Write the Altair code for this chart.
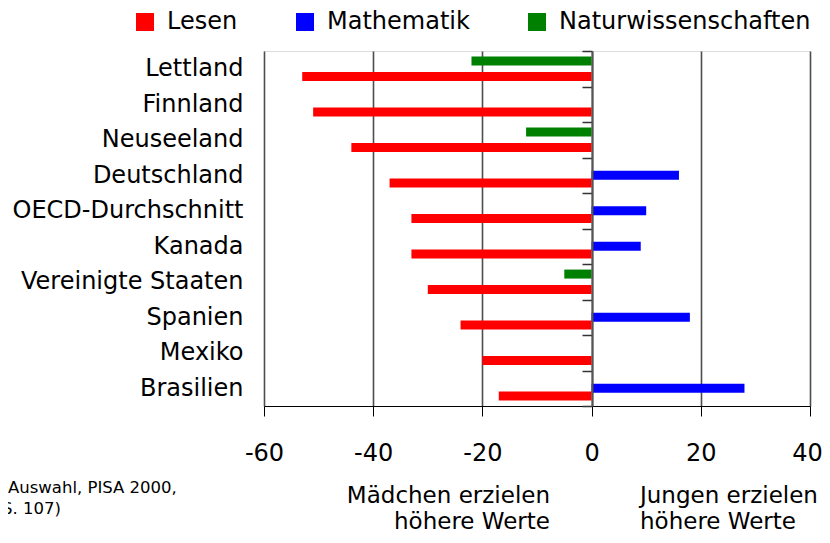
import altair as alt
import pandas as pd

countries = ["Lettland", "Finnland", "Neuseeland", "Deutschland", "OECD-Durchschnitt",
             "Kanada", "Vereinigte Staaten", "Spanien", "Mexiko", "Brasilien"]
lesen = [-53, -51, -44, -37, -33, -33, -30, -24, -20, -17]
mathematik = [None, None, None, 16, 10, 9, None, 18, None, 28]
naturwiss = [-22, None, -12, None, None, None, -5, None, None, None]
series = ["Lesen", "Mathematik", "Naturwissenschaften"]
colors = ["#ff0000", "#0000ff", "#008000"]
x_ticks = [-60, -40, -20, 0, 20, 40]

rows = []
for name, vals in zip(series, [lesen, mathematik, naturwiss]):
    for c, v in zip(countries, vals):
        if v is not None:
            rows.append({"Land": c, "Bereich": name, "Wert": v})
df = pd.DataFrame(rows)

FONT = "DejaVu Sans"

bars = alt.Chart(df).mark_bar(height=9).encode(
    x=alt.X("Wert:Q", scale=alt.Scale(domain=[-60, 40], nice=False, zero=False),
            axis=alt.Axis(values=x_ticks, title=None, grid=True, gridColor="#4d4d4d", gridWidth=1.6,
                          tickSize=10, tickColor="black", tickWidth=1, domainColor="black", domainWidth=1,
                          labelFontSize=24, labelPadding=25, labelColor="black", labelFont=FONT,
                          labelFlush=False, labelExpr="'' + datum.value",
                          labelOffset={"condition": {"test": "datum.value == 40", "value": -3}, "value": 0})),
    y=alt.Y("Land:N", sort=countries, scale=alt.Scale(paddingInner=0, paddingOuter=0),
            axis=alt.Axis(title=None, domain=True, domainColor="#555555", domainWidth=2,
                          tickBand="extent", tickSize=10, tickColor="#333333", tickWidth=1.5,
                          offset=-328, labelPadding=339, labelFontSize=24, labelLimit=400,
                          labelColor="black", labelFont=FONT, zindex=1)),
    yOffset=alt.YOffset("Bereich:N", sort=["Naturwissenschaften", "Mathematik", "Lesen"],
                        scale=alt.Scale(paddingInner=0, paddingOuter=0.81)),
    color=alt.Color("Bereich:N", scale=alt.Scale(domain=series, range=colors),
                    legend=alt.Legend(title=None, orient="none", direction="horizontal",
                                      legendX=-131, legendY=-41, symbolType="square", symbolSize=324,
                                      symbolStrokeWidth=0, symbolOpacity=1, labelFontSize=24, labelFont=FONT,
                                      labelOffset=10, columnPadding=55, labelLimit=400, labelColor="black")),
)


def note(text, x, y, align, size):
    return alt.Chart(alt.Data(values=[{}])).mark_text(
        text=text, align=align, baseline="middle", fontSize=size, font=FONT, color="black"
    ).encode(x=alt.value(x), y=alt.value(y))


layers = [
    bars,
    note("Mädchen erzielen", 286, 445, "right", 23),
    note("höhere Werte", 286, 471, "right", 23),
    note("Jungen erzielen", 376, 445, "left", 23),
    note("höhere Werte", 376, 471, "left", 23),
    note("Auswahl, PISA 2000,", -256, 437, "left", 16.5),
    note("S. 107)", -203, 458, "right", 16.5),
]

chart = alt.layer(*layers).properties(
    width=546, height=355,
    padding={"left": 256, "top": 43, "right": 12, "bottom": 129},
    autosize="none",
).configure_view(stroke="black", strokeWidth=1).configure(font=FONT)

chart.save("out.html", embed_options={"renderer": "svg", "actions": False})
